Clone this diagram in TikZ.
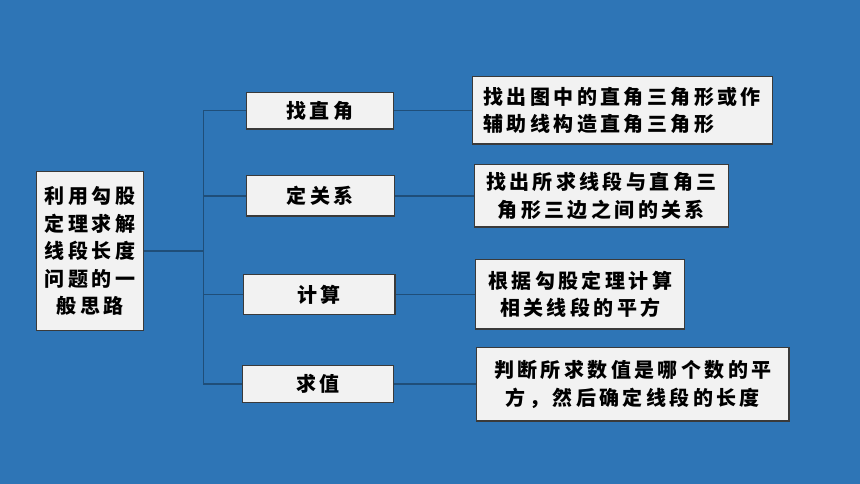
\documentclass[tikz,border=0pt]{standalone}
\usepackage{fontspec}
\setmainfont{Noto Sans CJK SC}[LetterSpace=17]
\definecolor{bg}{HTML}{2E75B6}
\definecolor{conn}{HTML}{1F4E79}
\definecolor{boxfill}{HTML}{F2F2F2}
\definecolor{boxline}{HTML}{3A3A3A}
\tikzset{
  card/.style={draw=boxline, line width=1.2pt, fill=boxfill, rectangle, inner sep=0pt,
    font=\fontsize{20}{27.5}\selectfont\bfseries, text=black},
  wire/.style={draw=conn, line width=1.4pt}
}
\begin{document}
\begin{tikzpicture}[x=1pt,y=-1pt]
\fill[bg] (0,0) rectangle (860,484);
\useasboundingbox (0,0) rectangle (860,484);
\node[card, minimum width=106.6pt, minimum height=159pt, align=center] (L) at (90,251.2)
  {利用勾股\\定理求解\\线段长度\\问题的一\\般思路};
\node[card, minimum width=147.4pt, minimum height=36.7pt] (B1) at (320,110.7) {找直角};
\node[card, minimum width=148pt, minimum height=40.3pt] (B2) at (320.3,195.9) {定关系};
\node[card, minimum width=151.3pt, minimum height=40pt] (B3) at (319.3,294.7) {计算};
\node[card, minimum width=151.4pt, minimum height=37.4pt] (B4) at (318,384) {求值};
\node[card, minimum width=300pt, minimum height=67.7pt, align=left] (R1) at (622.3,110.2)
  {找出图中的直角三角形或作\\辅助线构造直角三角形};
\node[card, minimum width=254pt, minimum height=62.7pt, align=center] (R2) at (601.3,195.7)
  {找出所求线段与直角三\\角形三边之间的关系};
\node[card, minimum width=209pt, minimum height=69.3pt, align=center] (R3) at (580.2,294.3)
  {根据勾股定理计算\\相关线段的平方};
\node[card, minimum width=312.3pt, minimum height=73.7pt, align=center] (R4) at (632.9,384.2)
  {判断所求数值是哪个数的平\\方，然后确定线段的长度};
\coordinate (j) at (203.3,251);
\draw[wire] (L.east |- j) -- (j);
\draw[wire] (B1.west) -- (B1.west -| j) -- (B4.west -| j) -- (B4.west);
\draw[wire] (B2.west) -- (B2.west -| j);
\draw[wire] (B3.west) -- (B3.west -| j);
\draw[wire] (B1.east) -- (B1.east -| R1.west);
\draw[wire] (B2.east) -- (B2.east -| R2.west);
\draw[wire] (B3.east) -- (B3.east -| R3.west);
\draw[wire] (B4.east) -- (B4.east -| R4.west);
\end{tikzpicture}
\end{document}
